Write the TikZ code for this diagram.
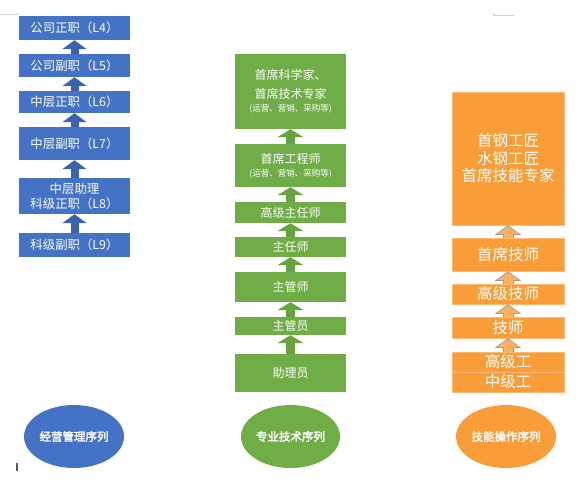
\documentclass[tikz,border=0pt]{standalone}
\usepackage{fontspec}
\newfontfamily\cjk{Noto Sans CJK SC}
\newfontfamily\cjkbold{Noto Sans CJK SC}[FakeBold=2.5]
\usepackage{tikz}
\usetikzlibrary{arrows.meta, shapes.geometric}
\definecolor{bluebox}{HTML}{4472C4}
\definecolor{bluearr}{HTML}{3A63AC}
\definecolor{greenbox}{HTML}{70AD47}
\definecolor{greenarr}{HTML}{66A43F}
\definecolor{orangebox}{HTML}{F99D39}
\definecolor{orangearr}{HTML}{FBB062}
\definecolor{markgray}{HTML}{D0D0D0}
\tikzstyle{rank} = [
  rectangle, text=white, align=center, inner sep=0pt
]
\tikzstyle{bluebox} = [rank, fill=bluebox, minimum width=111pt,
  font=\cjk\fontsize{12.4}{15}\selectfont]
\tikzstyle{greenbox} = [rank, fill=greenbox, minimum width=111pt,
  font=\cjk\fontsize{12}{19}\selectfont]
\tikzstyle{orangebox} = [rank, fill=orangebox, draw=orangebox!70!white,
  line width=0.6pt, minimum width=112pt,
  font=\cjk\fontsize{15.5}{17.5}\selectfont]
\tikzstyle{series} = [ellipse, text=white, minimum width=100pt,
  minimum height=63pt, inner sep=0pt, font=\cjkbold\fontsize{11.5}{13}\selectfont]
\tikzstyle{bluearrow} = [line width=8pt, bluearr,
  -{Triangle[length=9pt, width=24pt]}]
\tikzstyle{greenarrow} = [line width=9pt, greenarr,
  -{Triangle[length=8pt, width=26pt]}]
\tikzstyle{orangearrow} = [line width=9pt, orangearr, shorten >=1.2pt,
  -{Triangle[length=7.5pt, width=22pt]},
  preaction={draw=gray!80, line width=11pt, shorten >=0pt,
    -{Triangle[length=9.5pt, width=26pt]}}]

\begin{document}
\begin{tikzpicture}[x=1pt, y=-1pt]
  \useasboundingbox (0,0) rectangle (581,491);

  % Page marks
  \draw[markgray, line width=0.8pt] (0,14.5) -- (17,14.5) -- (17,12.5);
  \draw[markgray, line width=0.8pt] (514,15) -- (493,15) -- (493,12.5);
  \draw[gray!70!black, line width=1.2pt] (17,463) -- (17,471);

  % Management sequence
  \node[bluebox, minimum height=24pt] (l4) at (74.5, 28) {公司正职（L4）};
  \node[bluebox, minimum height=23pt] (l5) at (74.5, 65.5) {公司副职（L5）};
  \node[bluebox, minimum height=22pt] (l6) at (74.5, 102) {中层正职（L6）};
  \node[bluebox, minimum height=33pt] (l7) at (74.5, 143.5) {中层副职（L7）};
  \node[bluebox, minimum height=36pt] (l8) at (74.5, 196) {中层助理\\科级正职（L8）};
  \node[bluebox, minimum height=24pt] (l9) at (74.5, 245) {科级副职（L9）};

  % Technical sequence
  \node[greenbox, minimum height=75pt] (g1) at (290.5, 91.5)
    {首席科学家、\\首席技术专家\\[-6pt]{\fontsize{8.5}{10}\selectfont(运营、营销、采购等)}};
  \node[greenbox, minimum height=43pt] (g2) at (290.5, 165.5)
    {首席工程师\\[-6pt]{\fontsize{8.5}{10}\selectfont(运营、营销、采购等)}};
  \node[greenbox, minimum height=21pt] (g3) at (290.5, 212.5) {高级主任师};
  \node[greenbox, minimum height=20pt] (g4) at (290.5, 247) {主任师};
  \node[greenbox, minimum height=30pt] (g5) at (290.5, 287) {主管师};
  \node[greenbox, minimum height=18pt] (g6) at (290.5, 326) {主管员};
  \node[greenbox, minimum height=38pt] (g7) at (290.5, 373) {助理员};

  % Skills sequence
  \node[orangebox, minimum height=133pt] (o1) at (508, 158.5)
    {首钢工匠\\水钢工匠\\首席技能专家};
  \node[orangebox, minimum height=33pt] (o2) at (508, 254.5) {首席技师};
  \node[orangebox, minimum height=20pt] (o3) at (508, 294) {高级技师};
  \node[orangebox, minimum height=21pt] (o4) at (508, 327.5) {技师};
  \node[orangebox, minimum height=20pt] (o5) at (508, 362) {高级工};
  \node[orangebox, minimum height=20pt] (o6) at (508, 382) {中级工};

  % Arrows
  \foreach \a/\b in {l9/l8, l8/l7, l7/l6, l6/l5, l5/l4}
    \draw[bluearrow] (\a.north) -- (\b.south);
  \foreach \a/\b in {g7/g6, g6/g5, g5/g4, g4/g3, g3/g2, g2/g1}
    \draw[greenarrow] (\a.north) -- (\b.south);
  \foreach \a/\b in {o5/o4, o4/o3, o3/o2, o2/o1}
    \draw[orangearrow] (\a.north) -- (\b.south);

  % Sequence labels
  \node[series, fill=bluebox] (mgmt) at (74, 436.5) {经营管理序列};
  \node[series, fill=greenbox, minimum width=99pt] (tech) at (290.5, 436.5) {专业技术序列};
  \node[series, fill=orangebox] (skill) at (506, 436.5) {技能操作序列};

\end{tikzpicture}
\end{document}
